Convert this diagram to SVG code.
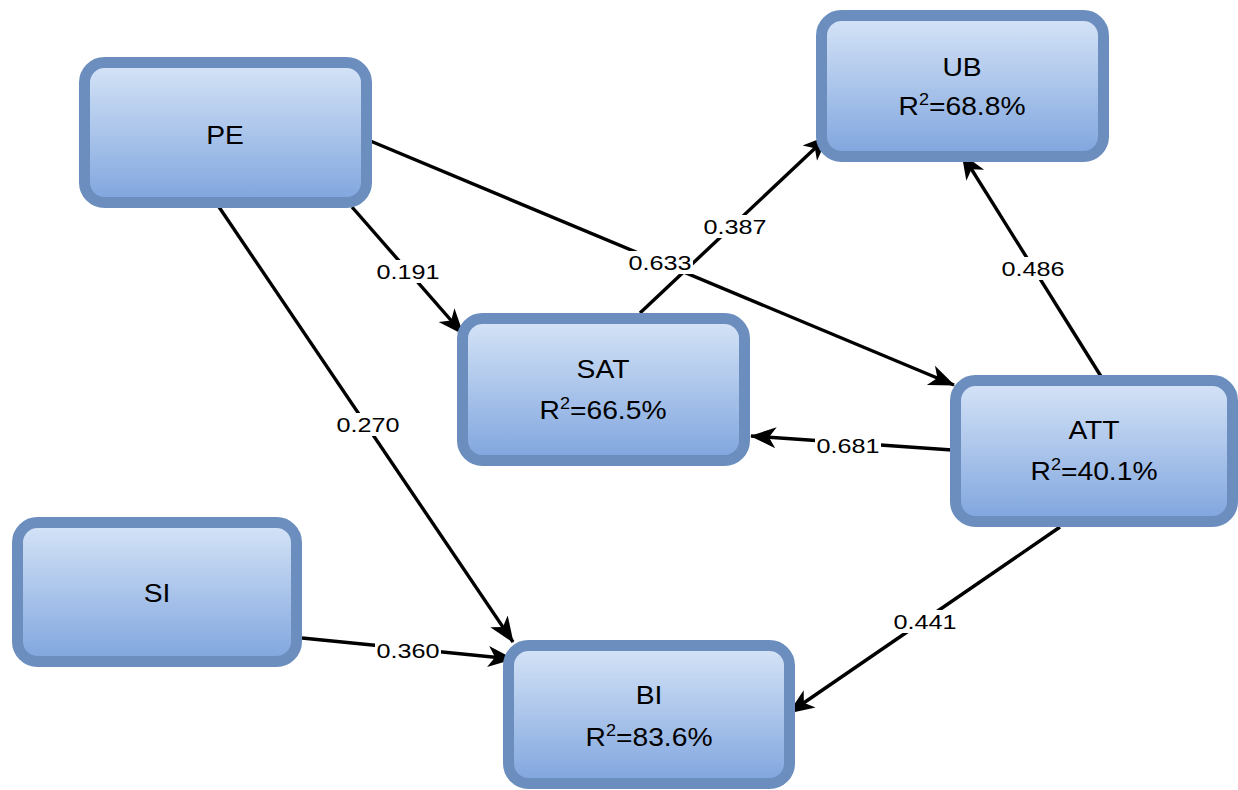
<svg xmlns="http://www.w3.org/2000/svg" width="1238" height="790" viewBox="0 0 1238 790">
<defs>
<linearGradient id="g" x1="0" y1="0" x2="0" y2="1">
<stop offset="0" stop-color="#d6e4f7"/>
<stop offset="1" stop-color="#7fa5de"/>
</linearGradient>
<marker id="ah" markerUnits="userSpaceOnUse" markerWidth="28" markerHeight="24" viewBox="0 0 28 24" refX="25" refY="12" orient="auto">
<path d="M0,1.5 L26,12 L0,22.5 L7,12 Z" fill="#000"/>
</marker>
<style>
.box{fill:url(#g);stroke:#6c8ebf;stroke-width:11}
.nt{font-family:"Liberation Sans",Arial,sans-serif;font-size:25px;fill:#000;text-anchor:middle}
.sup{font-size:16px}
.edge{stroke:#000;stroke-width:3.4;fill:none;marker-end:url(#ah)}
.lb{font-family:"Liberation Sans",Arial,sans-serif;font-size:21px;fill:#000;text-anchor:middle}
.lbg{fill:#fff}
</style>
</defs>
<g id="connectors">
<line class="edge" x1="352" y1="207" x2="463" y2="334"/>
<line class="edge" x1="368" y1="140" x2="954" y2="385"/>
<line class="edge" x1="219" y1="207" x2="513" y2="642"/>
<line class="edge" x1="640" y1="313" x2="828" y2="136"/>
<line class="edge" x1="1102" y1="378" x2="962" y2="154"/>
<line class="edge" x1="952" y1="450" x2="751" y2="436"/>
<line class="edge" x1="1060" y1="527" x2="789" y2="713"/>
<line class="edge" x1="302" y1="638" x2="513" y2="659"/>
<g id="labels">
<rect class="lbg" x="375" y="260" width="66" height="23"/><text class="lb" transform="translate(408,0) scale(1.2,1)" x="0" y="279">0.191</text>
<rect class="lbg" x="627" y="251" width="66" height="23"/><text class="lb" transform="translate(660,0) scale(1.2,1)" x="0" y="270">0.633</text>
<rect class="lbg" x="335" y="413" width="66" height="23"/><text class="lb" transform="translate(368,0) scale(1.2,1)" x="0" y="432">0.270</text>
<rect class="lbg" x="702" y="215" width="66" height="23"/><text class="lb" transform="translate(735,0) scale(1.2,1)" x="0" y="234">0.387</text>
<rect class="lbg" x="1000" y="257" width="66" height="23"/><text class="lb" transform="translate(1033,0) scale(1.2,1)" x="0" y="276">0.486</text>
<rect class="lbg" x="815" y="434" width="66" height="23"/><text class="lb" transform="translate(848,0) scale(1.2,1)" x="0" y="453">0.681</text>
<rect class="lbg" x="892" y="610" width="66" height="23"/><text class="lb" transform="translate(925,0) scale(1.2,1)" x="0" y="629">0.441</text>
<rect class="lbg" x="375" y="639" width="66" height="23"/><text class="lb" transform="translate(408,0) scale(1.2,1)" x="0" y="658">0.360</text>
</g>
</g>
<g id="PE"><rect class="box" x="84.5" y="62.5" width="282" height="140" rx="20"/><text class="nt" transform="translate(225,0) scale(1.13,1)" x="0" y="144">PE</text></g>
<g id="UB"><rect class="box" x="821.5" y="15.5" width="282" height="141" rx="20"/><text class="nt" transform="translate(962,0) scale(1.13,1)" x="0" y="76">UB</text><text class="nt" transform="translate(962,0) scale(1.13,1)" x="0" y="115">R<tspan class="sup" dy="-10">2</tspan><tspan dy="10">=68.8%</tspan></text></g>
<g id="SAT"><rect class="box" x="462.5" y="318.5" width="282" height="142" rx="20"/><text class="nt" transform="translate(603,0) scale(1.13,1)" x="0" y="378">SAT</text><text class="nt" transform="translate(603,0) scale(1.13,1)" x="0" y="419">R<tspan class="sup" dy="-10">2</tspan><tspan dy="10">=66.5%</tspan></text></g>
<g id="ATT"><rect class="box" x="955.5" y="380.5" width="277" height="141" rx="20"/><text class="nt" transform="translate(1094,0) scale(1.13,1)" x="0" y="439">ATT</text><text class="nt" transform="translate(1094,0) scale(1.13,1)" x="0" y="480">R<tspan class="sup" dy="-10">2</tspan><tspan dy="10">=40.1%</tspan></text></g>
<g id="BI"><rect class="box" x="508.5" y="645.5" width="281" height="138" rx="20"/><text class="nt" transform="translate(649,0) scale(1.13,1)" x="0" y="704">BI</text><text class="nt" transform="translate(649,0) scale(1.13,1)" x="0" y="746">R<tspan class="sup" dy="-10">2</tspan><tspan dy="10">=83.6%</tspan></text></g>
<g id="SI"><rect class="box" x="17.5" y="522.5" width="279" height="139" rx="20"/><text class="nt" transform="translate(157,0) scale(1.13,1)" x="0" y="602">SI</text></g>
</svg>
